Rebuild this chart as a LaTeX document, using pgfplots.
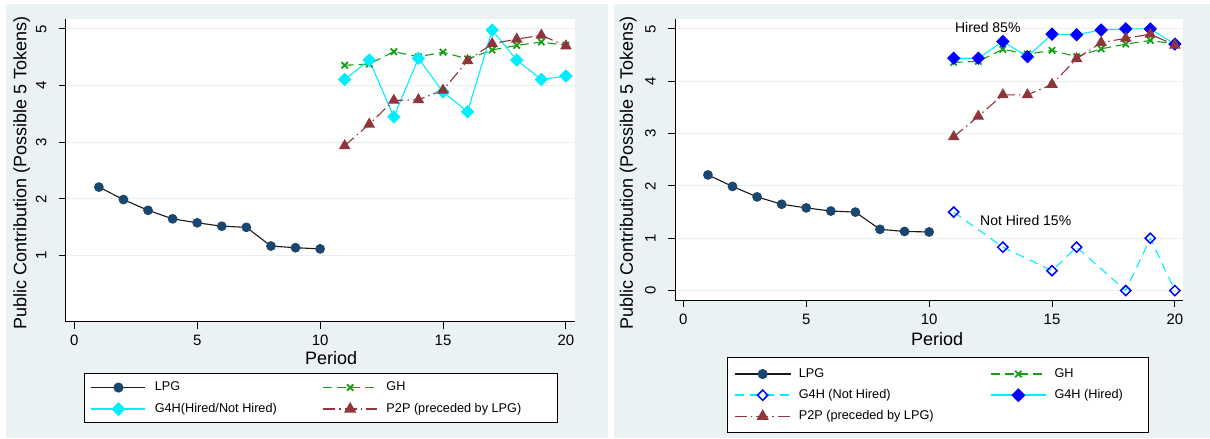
\documentclass[border=0pt]{standalone}
\usepackage{pgfplots}
\pgfplotsset{compat=1.18}
\usepackage{fontspec}
\setmainfont{Liberation Sans}
\definecolor{panelbg}{RGB}{234,242,243}
\definecolor{gridc}{RGB}{232,240,241}
\definecolor{stnavy}{RGB}{26,71,111}
\definecolor{stgreen}{RGB}{20,160,20}
\definecolor{stcyan}{RGB}{0,238,255}
\definecolor{stmaroon}{RGB}{144,53,59}
\definecolor{stblue}{RGB}{0,0,255}

\pgfplotsset{
  stbase/.style={
    scale only axis, anchor=south west,
    axis lines*=left, axis line style={line width=1pt, black},
    axis background/.style={fill=white},
    tick align=outside, major tick length=7pt,
    tick style={black, line width=1pt},
    xtick={0,5,10,15,20},
    ymajorgrids, grid style={gridc, line width=1pt},
    /pgf/number format/assume math mode=true,
    ticklabel style={font=\fontsize{15}{18}\selectfont},
    xticklabel style={anchor=center, yshift=-12pt},
    yticklabel style={anchor=center, xshift=-17.5pt, rotate=90},
    label style={font=\fontsize{18}{21}\selectfont},
    xlabel={Period},
    ylabel={Public Contribution (Possible 5 Tokens)},
    clip=false,
    legend cell align=left,
  },
  lpg/.style={black!90, line width=1.1pt, mark=*, mark size=4.3pt,
    mark options={solid, fill=stnavy, draw=stnavy}},
  gh/.style={stgreen, line width=1.1pt, dash pattern=on 9pt off 5pt,
    mark=x, mark size=4.5pt, mark options={solid, line width=1.8pt}},
  g4h/.style={stcyan, line width=1.1pt, solid, mark=square*, mark size=4.2pt,
    mark options={solid, rotate=45, fill=stcyan, draw=stcyan}},
  p2p/.style={stmaroon, line width=1.1pt,
    dash pattern=on 12pt off 4pt on 1.5pt off 4pt,
    mark=triangle*, mark size=5.6pt, mark options={solid, fill=stmaroon, draw=stmaroon}},
  nh/.style={stcyan, line width=1.1pt, dash pattern=on 9pt off 6pt,
    mark=square, mark size=3.6pt,
    mark options={solid, rotate=45, draw=stblue, line width=1.5pt, fill=white}},
  hired/.style={stcyan, line width=1.1pt, solid, mark=square*, mark size=4.2pt,
    mark options={solid, rotate=45, draw=stblue, fill=stblue}},
}

\begin{document}
\begin{tikzpicture}
\fill[white] (0pt,0pt) rectangle (1210pt,439pt);
\fill[panelbg] (5.7pt,0.7pt) rectangle (608.3pt,435pt);
\fill[panelbg] (614pt,0.7pt) rectangle (1210pt,435pt);

% ---------------- left panel ----------------
\begin{axis}[stbase,
  at={(65.7pt,117.3pt)}, width=509.3pt, height=302.7pt,
  xmin=-0.35, xmax=20.37, ymin=-0.165, ymax=5.176,
  ytick={1,2,3,4,5},
  xlabel style={at={(axis description cs:0.521,0)}, anchor=center, yshift=-36.6pt},
  ylabel style={at={(axis description cs:-0.0864,0.491)}, anchor=center},
  legend columns=2,
  legend image code/.code={
    \path[draw=none, fill=none] (0pt,-6.75pt) rectangle (70pt,6.75pt);
    \draw[mark repeat=2, mark phase=2, #1, line width=1.5pt] plot coordinates {(6.7pt,0pt) (33.7pt,0pt) (60.7pt,0pt)};
  },
  legend style={at={(axis description cs:0.0365,-0.1705)}, anchor=north west,
    draw=black, line width=1pt, fill=white,
    inner xsep=0pt, inner ysep=7pt, row sep=8pt, column sep=0pt,
    font=\fontsize{12.7}{15}\selectfont,
    nodes={inner sep=0pt, text height=9.5pt, text depth=2.8pt}},
]
\addplot[lpg] coordinates {(1,2.21)(2,1.99)(3,1.80)(4,1.65)(5,1.58)(6,1.52)(7,1.50)(8,1.17)(9,1.14)(10,1.12)};
\addlegendentry{\makebox[161.7pt][l]{LPG}}
\addplot[gh] coordinates {(11,4.36)(12,4.38)(13,4.60)(14,4.51)(15,4.59)(16,4.47)(17,4.63)(18,4.71)(19,4.77)(20,4.71)};
\addlegendentry{\makebox[170.7pt][l]{GH}}
\addplot[g4h] coordinates {(11,4.11)(12,4.45)(13,3.45)(14,4.48)(15,3.89)(16,3.54)(17,4.98)(18,4.45)(19,4.11)(20,4.17)};
\addlegendentry{\makebox[161.7pt][l]{G4H(Hired/Not Hired)}}
\addplot[p2p] coordinates {(11,2.94)(12,3.32)(13,3.74)(14,3.75)(15,3.92)(16,4.44)(17,4.74)(18,4.82)(19,4.89)(20,4.70)};
\addlegendentry{\makebox[170.7pt][l]{P2P (preceded by LPG)}}
\end{axis}

% ---------------- right panel ----------------
\begin{axis}[stbase,
  at={(675pt,139pt)}, width=508pt, height=281pt,
  xmin=-0.34, xmax=20.33, ymin=-0.18, ymax=5.19,
  ytick={0,1,2,3,4,5},
  xlabel style={at={(axis description cs:0.516,0)}, anchor=center, yshift=-39.3pt},
  ylabel style={at={(axis description cs:-0.0919,0.452)}, anchor=center},
  legend columns=2,
  legend image code/.code={
    \path[draw=none, fill=none] (0pt,-6.75pt) rectangle (71.6pt,6.75pt);
    \draw[mark repeat=2, mark phase=2, #1, line width=1.5pt] plot coordinates {(7.6pt,0pt) (35.45pt,0pt) (63.3pt,0pt)};
  },
  legend style={at={(axis description cs:0.1018,-0.2039)}, anchor=north west,
    draw=black, line width=1pt, fill=white,
    inner xsep=0pt, inner ysep=9.5pt, row sep=7.65pt, column sep=0pt,
    font=\fontsize{12.7}{15}\selectfont,
    nodes={inner sep=0pt, text height=9.5pt, text depth=2.8pt}},
]
\addplot[lpg] coordinates {(1,2.21)(2,1.99)(3,1.79)(4,1.65)(5,1.58)(6,1.52)(7,1.50)(8,1.17)(9,1.13)(10,1.12)};
\addlegendentry{\makebox[184.1pt][l]{LPG}}
\addplot[gh] coordinates {(11,4.36)(12,4.38)(13,4.61)(14,4.52)(15,4.59)(16,4.47)(17,4.62)(18,4.71)(19,4.78)(20,4.71)};
\addlegendentry{\makebox[93.7pt][l]{GH}}
\addplot[nh] coordinates {(11,1.50)(13,0.83)(15,0.38)(16,0.83)(18,0.00)(19,1.00)(20,0.00)};
\addlegendentry{\makebox[184.1pt][l]{G4H (Not Hired)}}
\addplot[hired] coordinates {(11,4.44)(12,4.44)(13,4.76)(14,4.47)(15,4.90)(16,4.89)(17,4.98)(18,5.00)(19,5.00)(20,4.71)};
\addlegendentry{\makebox[93.7pt][l]{G4H (Hired)}}
\addplot[p2p] coordinates {(11,2.94)(12,3.33)(13,3.74)(14,3.74)(15,3.94)(16,4.43)(17,4.74)(18,4.82)(19,4.90)(20,4.69)};
\addlegendentry{\makebox[184.1pt][l]{P2P (preceded by LPG)}}
\node[anchor=west, inner sep=0pt, font=\fontsize{14}{16}\selectfont] at (axis cs:11.05,5.02) {Hired 85\%};
\node[anchor=west, inner sep=0pt, font=\fontsize{14}{16}\selectfont] at (axis cs:12.07,1.33) {Not Hired 15\%};
\end{axis}
\end{tikzpicture}
\end{document}
